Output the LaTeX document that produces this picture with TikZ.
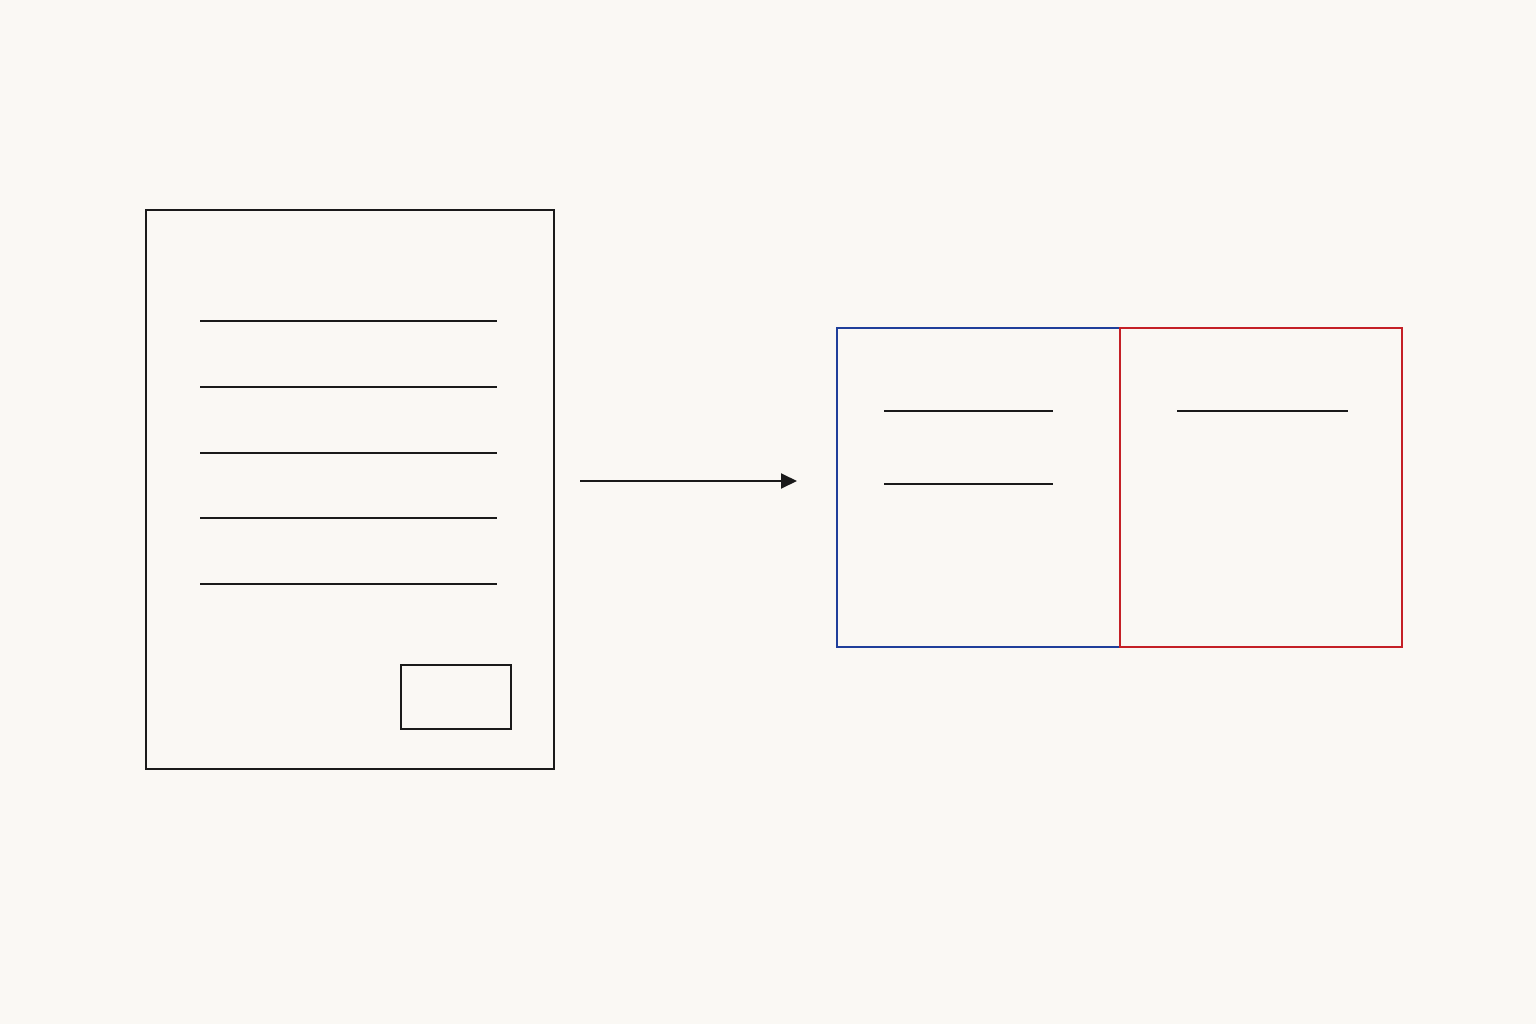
\documentclass[tikz,border=0pt]{standalone}
\usetikzlibrary{arrows.meta}
\definecolor{bg}{HTML}{FAF8F4}
\definecolor{ink}{HTML}{1A1A1A}
\definecolor{myblue}{HTML}{1F3F9A}
\definecolor{myred}{HTML}{C42026}
\tikzset{
  boxline/.style={line width=1.1pt, draw=ink},
  textline/.style={line width=1.1pt, draw=ink},
  frame/.style={draw, line width=1.1pt, minimum width=#1},
}
\begin{document}
\begin{tikzpicture}[x=0.02cm,y=-0.02cm]
\fill[bg] (0,0) rectangle (1536,1024);
\useasboundingbox (0,0) rectangle (1536,1024);
% document
\node[boxline, draw, inner sep=0, minimum width=408*0.02cm, minimum height=559*0.02cm, anchor=north west] (doc) at (145,209) {};
\foreach \yy in {321,387,453,518,584} \draw[textline] (200,\yy) -- (497,\yy);
\node[boxline, draw, inner sep=0, minimum width=110*0.02cm, minimum height=64*0.02cm, anchor=north west] (stamp) at (400,664) {};
% split boxes
\node[draw=myblue, line width=1.1pt, inner sep=0, minimum width=283*0.02cm, minimum height=319*0.02cm, anchor=north west] (left) at (836,327) {};
\node[draw=myred, line width=1.1pt, inner sep=0, minimum width=282*0.02cm, minimum height=319*0.02cm, anchor=north west] (right) at (1119,327) {};
\draw[textline] (884,411) -- (1053,411);
\draw[textline] (884,484) -- (1053,484);
\draw[textline] (1177,411) -- (1348,411);
% arrow
\coordinate (a1) at (580,481);
\coordinate (a2) at (797,481);
\draw[line width=1.1pt, draw=ink, -{Triangle[length=0.32cm,width=0.3cm]}] (a1) -- (a2);
\end{tikzpicture}
\end{document}
